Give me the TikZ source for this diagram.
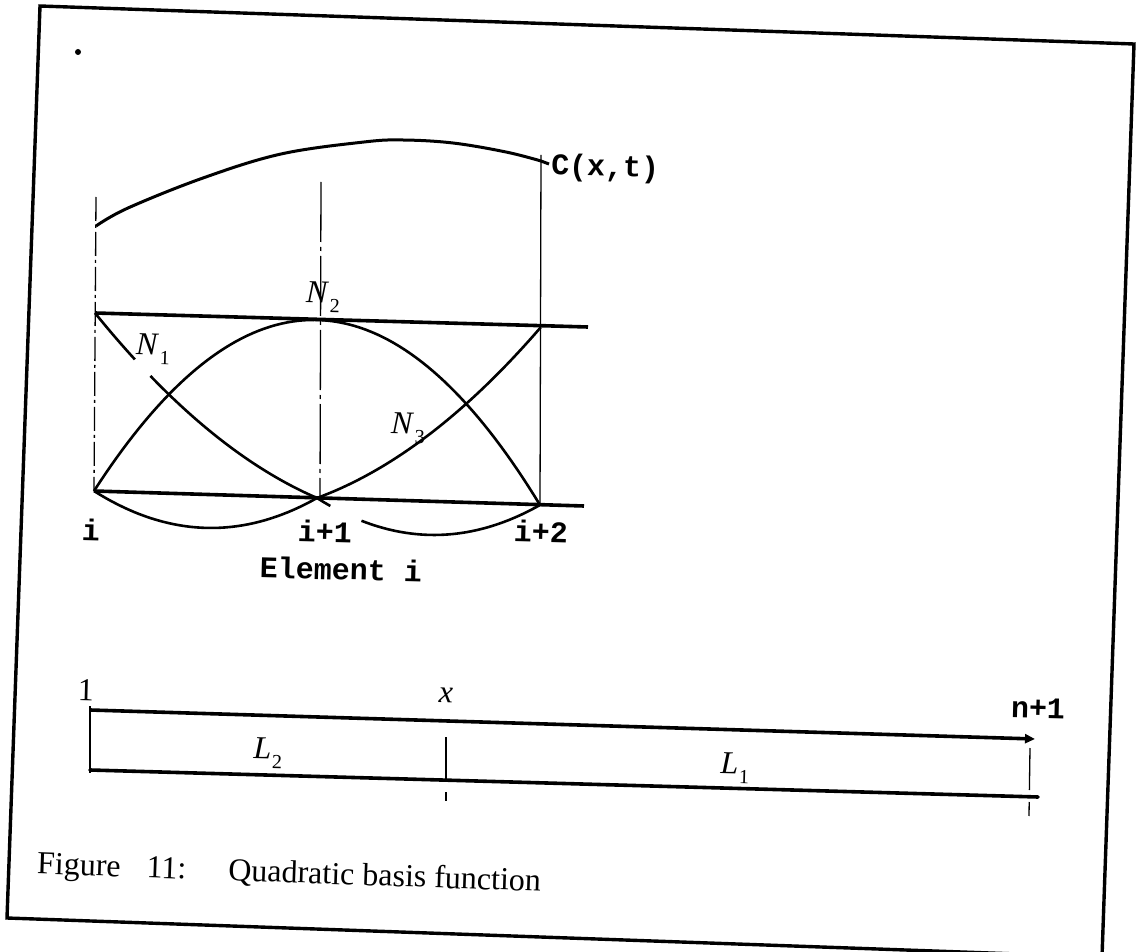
\documentclass[tikz,border=0pt]{standalone}
\usepackage{fontspec}
\setmainfont{Liberation Serif}
\setmonofont{Liberation Mono}
\usetikzlibrary{arrows.meta}
\newcommand\NL[2]{\textit{#1}\kern0.03em\raisebox{-0.28em}{\fontsize{20}{20}\selectfont #2}}
\begin{document}
\begin{tikzpicture}[x=1pt,y=-1pt,
  thickline/.style={line width=3.6pt},
  thinline/.style={line width=1.3pt},
  basis/.style={line width=2.6pt},
  mono/.style={font=\fontsize{30}{30}\selectfont\ttfamily\bfseries, inner sep=0pt, rotate=-1.5},
  ital/.style={font=\fontsize{32}{32}\selectfont, inner sep=0pt, rotate=-1.5},
  capt/.style={font=\fontsize{32}{32}\selectfont, inner sep=0pt, rotate=-2},
]
\useasboundingbox (0,0) rectangle (1136,952);
\clip (0,0) rectangle (1136,952);
\fill[white] (0,0) rectangle (1136,952);

% frame
\coordinate (fTL) at (40,6);
\coordinate (fTR) at (1134,44);
\coordinate (fBR) at (1102,957);
\coordinate (fBL) at (7,918);
\draw[line width=3.4pt, line join=miter] (fTL) -- (fTR) -- (fBR) -- (fBL) -- cycle;
\fill (78,52) circle (3);

% ---------- upper figure ----------
\coordinate (ni) at (94,491);
\coordinate (nip1) at (320,498);
\coordinate (nip2) at (540,505);
\coordinate (ti) at (95,313);
\coordinate (tend) at (588,327);
\coordinate (bend) at (584,506);

% verticals
\coordinate (vl1) at (96,197);
\coordinate (vm1) at (321,182);
\coordinate (vr1) at (541,155);
\draw[thinline, dash pattern=on 24pt off 4pt on 3pt off 4pt] (vl1) -- (ni);
\draw[thinline, dash pattern=on 60pt off 5pt on 4pt off 5pt] (vm1) -- (nip1);
\draw[thinline] (vr1) -- (nip2);

% C(x,t) curve
\draw[line width=3pt] plot[smooth, tension=0.6] coordinates
  {(96,226) (128,208) (203,178) (281,154) (364,142) (403,140) (453,143) (506,152) (541,161)}
  -- (549,164);
\node[mono, anchor=west] (clab) at (551,167) {C(x,t)};

% horizontal lines
\draw[thickline] (ti) -- (tend);
\draw[thickline] (ni) -- (bend);

% basis functions in local frame
\begin{scope}[shift={(94,491)}, x={(446pt,-14pt)}, y={(1pt,178pt)}]
  % N1
  \draw[basis] plot[domain=0:0.09, samples=10] (\x,{(1-\x)*(1-2*\x)});
  \draw[basis] plot[domain=0.125:0.5, samples=40] (\x,{(1-\x)*(1-2*\x)});
  \draw[basis] plot[domain=0.5:0.53, samples=5] (\x,{1.5*(1-\x)*(1-2*\x)});
  \draw[basis] plot[domain=0.6:1, samples=40] (\x,{1.5*(1-\x)*(1-2*\x)});
  % N2
  \draw[basis] plot[domain=0:1, samples=80] (\x,{4*\x*(1-\x)});
  % N3
  \draw[basis] plot[domain=0:0.5, samples=40] (\x,{1.5*\x*(2*\x-1)});
  \draw[basis] plot[domain=0.5:1, samples=40] (\x,{\x*(2*\x-1)});
\end{scope}

\node[ital] (n1) at (153,349) {\NL{N}{1}};
\node[ital] (n2) at (323,297) {\NL{N}{2}};
\node[ital] (n3) at (408,428) {\NL{N}{3}};

\node[mono] (li) at (91,530) {i};
\node[mono] (lip1) at (325,531) {i+1};
\node[mono] (lip2) at (541,531) {i+2};
\node[mono] (elem) at (341,569) {Element i};

% ---------- lower bar ----------
\coordinate (bl1) at (90,706);
\coordinate (bl2) at (90,773);
\coordinate (bt1) at (90,710);
\coordinate (bt2) at (1035,739);
\coordinate (bb1) at (90,770);
\coordinate (bb2) at (1038,797);
\coordinate (xt1) at (446,737);
\coordinate (xt2) at (446,802);
\coordinate (rt1) at (1030,748);
\coordinate (rt2) at (1029,816);

\draw[thinline] (bl1) -- (bl2);
\draw[thickline, -{Triangle[length=10pt,width=9pt]}] (bt1) -- (bt2);
\draw[thickline, line cap=round] (bb1) -- (bb2);
\draw[thinline, dash pattern=on 45pt off 10pt on 9pt off 4pt] (xt1) -- (xt2);
\draw[thinline, dash pattern=on 42pt off 12pt on 14pt off 4pt] (rt1) -- (rt2);

\node[ital] (one) at (86,690) {1};
\node[ital] (xl) at (446,695) {\textit{x}};
\node[mono] (np1) at (1038,708) {n+1};
\node[ital] (l2) at (268,753) {\NL{L}{2}};
\node[ital] (l1) at (735,768) {\NL{L}{1}};

% caption
\node[capt, anchor=west] (cap) at (37,866) {Figure\hspace{26pt}11:\hspace{42pt}Quadratic basis function};
\end{tikzpicture}
\end{document}
